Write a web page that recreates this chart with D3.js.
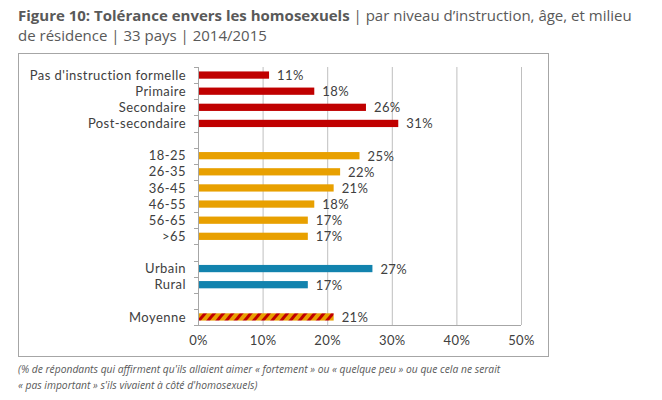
<!DOCTYPE html>
<html><head><meta charset="utf-8">
<script src="https://cdn.jsdelivr.net/npm/d3@7"></script>
<style>
body{margin:0;background:#fff;}
svg{display:block;font-family:"Open Sans",Lato,sans-serif;}
</style></head>
<body><svg id="c" width="662" height="400"></svg>
<script>
const categories = ["Pas d'instruction formelle","Primaire","Secondaire","Post-secondaire","",
  "18-25","26-35","36-45","46-55","56-65",">65","","Urbain","Rural","","Moyenne"];
const values = [11,18,26,31,null,25,22,21,18,17,17,null,27,17,null,21];
const groups = ["edu","edu","edu","edu",null,"age","age","age","age","age","age",null,"res","res",null,"avg"];
const xTicks = [0,10,20,30,40,50];
const groupColors = {edu:"#C00000", age:"#E8A000", res:"#1283AE"};

const svg = d3.select("#c");
const defs = svg.append("defs");
const pat = defs.append("pattern").attr("id","hatch").attr("patternUnits","userSpaceOnUse")
  .attr("width",7).attr("height",7).attr("patternTransform","rotate(40)");
pat.append("rect").attr("width",7).attr("height",7).attr("fill","#E8A000");
pat.append("rect").attr("width",3).attr("height",7).attr("fill","#C00000");

// title
const title = svg.append("text").attr("x",18).attr("y",21).attr("font-size",15).attr("fill","#595959");
title.append("tspan").attr("font-weight","bold").text("Figure 10: Tolérance envers les homosexuels");
title.append("tspan").text(" | par niveau d’instruction, âge, et milieu");
svg.append("text").attr("x",18).attr("y",41).attr("font-size",15).attr("fill","#595959")
  .text("de résidence | 33 pays | 2014/2015");

// frame
svg.append("rect").attr("x",18.5).attr("y",53.5).attr("width",530).attr("height",303)
  .attr("fill","none").attr("stroke","#a6a6a6");

const x = d3.scaleLinear().domain([0,50]).range([198,521]);
const y = d3.scaleBand().domain(d3.range(categories.length)).range([67,325]).paddingInner(0.55).paddingOuter(0.275);

// gridlines
svg.append("g").selectAll("line").data(xTicks.slice(1)).join("line")
  .attr("x1",d=>x(d)+0.5).attr("x2",d=>x(d)+0.5).attr("y1",67).attr("y2",325)
  .attr("stroke","#bfbfbf").attr("stroke-width",1);

// y axis line and ticks at slot boundaries
const step = (325-67)/categories.length;
svg.append("line").attr("x1",198.5).attr("x2",198.5).attr("y1",67).attr("y2",325).attr("stroke","#a6a6a6");
svg.append("g").selectAll("line").data(d3.range(categories.length+1)).join("line")
  .attr("x1",194).attr("x2",198).attr("y1",d=>Math.round(67+d*step)+0.5).attr("y2",d=>Math.round(67+d*step)+0.5)
  .attr("stroke","#a6a6a6");
svg.append("line").attr("x1",198).attr("x2",521).attr("y1",325.5).attr("y2",325.5).attr("stroke","#a6a6a6");

// x tick labels
const xAxis = d3.axisBottom(x).tickValues(xTicks).tickFormat(d=>d+"%").tickSize(0).tickPadding(11);
const gx = svg.append("g").attr("transform","translate(0,325)").call(xAxis);
gx.select(".domain").remove();
gx.selectAll("text").attr("font-size",13).attr("fill","#404040").attr("font-family","Lato,'Open Sans',sans-serif")
  .attr("letter-spacing",0.4);

// category labels
svg.append("g").selectAll("text").data(categories.map((c,i)=>({c,i})).filter(d=>d.c)).join("text")
  .attr("x",186).attr("y",d=>y(d.i)+y.bandwidth()/2).attr("dy","0.36em").attr("text-anchor","end")
  .attr("font-family","Lato,'Open Sans',sans-serif").attr("letter-spacing",0.45)
  .attr("font-size",13).attr("fill","#404040").text(d=>d.c);

// bars
const rows = values.map((v,i)=>({v,i,g:groups[i]})).filter(d=>d.v!=null);
svg.append("g").selectAll("rect").data(rows).join("rect")
  .attr("x",x(0)+1).attr("y",d=>y(d.i)).attr("height",y.bandwidth())
  .attr("width",d=>x(d.v)-x(0)-1)
  .attr("fill",d=>d.g==="avg"?"url(#hatch)":groupColors[d.g]);

// value labels
svg.append("g").selectAll("text").data(rows).join("text")
  .attr("x",d=>x(d.v)+8).attr("y",d=>y(d.i)+y.bandwidth()/2).attr("dy","0.38em")
  .attr("font-family","Lato,'Open Sans',sans-serif").attr("letter-spacing",0.4)
  .attr("font-size",13).attr("fill","#404040").text(d=>d.v+"%");

// footnote
const fn = svg.append("g").attr("font-size",10.3).attr("font-style","italic").attr("fill","#595959");
fn.append("text").attr("x",18).attr("y",373).text("(% de répondants qui affirment qu'ils allaient aimer « fortement » ou « quelque peu » ou que cela ne serait");
fn.append("text").attr("x",18).attr("y",389).text("« pas important » s'ils vivaient à côté d'homosexuels)");
</script></body></html>
